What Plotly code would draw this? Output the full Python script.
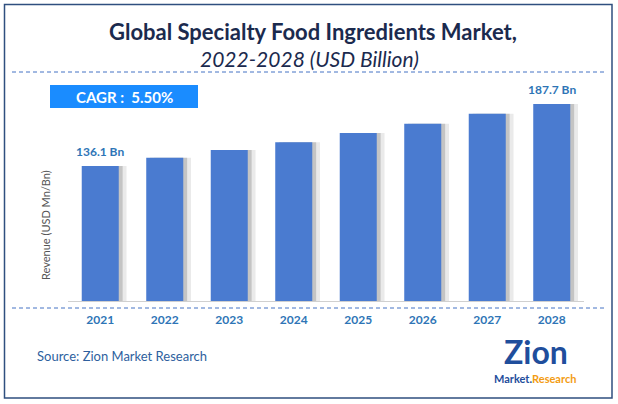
import plotly.graph_objects as go

years = ["2021", "2022", "2023", "2024", "2025", "2026", "2027", "2028"]
revenue = [136.1, 143.0, 149.4, 155.8, 163.6, 171.3, 179.6, 187.7]
bar_labels = ["136.1 Bn", "", "", "", "", "", "", "187.7 Bn"]

FONT = "Lato"
BAR = "#4a7bd0"
LABEL_BLUE = "#2e75b6"

fig = go.Figure()

# soft shadow to the right of each bar (two layers for a gradient feel)
fig.add_trace(go.Bar(
    x=years, y=revenue, width=0.574, offset=-0.287 + 0.12,
    marker=dict(color="rgba(140,140,140,0.18)", line=dict(width=0)),
    hoverinfo="skip", showlegend=False,
))
fig.add_trace(go.Bar(
    x=years, y=revenue, width=0.574, offset=-0.287 + 0.06,
    marker=dict(color="rgba(110,110,110,0.30)", line=dict(width=0)),
    hoverinfo="skip", showlegend=False,
))
fig.add_trace(go.Bar(
    x=years, y=revenue, width=0.574, offset=-0.287,
    marker=dict(color=BAR, line=dict(width=0)),
    showlegend=False,
))

for i, (v, t) in enumerate(zip(revenue, bar_labels)):
    if t:
        fig.add_annotation(x=i, y=v, xref="x", yref="y", text=f"<b>{t}</b>", showarrow=False,
                           yanchor="bottom", yshift=5,
                           font=dict(family=FONT, size=12, color=LABEL_BLUE))

def px(x):
    return (x - 68) / 516

def py(y):
    return (301 - y) / 211

ann = [
    dict(x=px(313), y=py(31), text="<b>Global Specialty Food Ingredients Market,</b>",
         font=dict(family=FONT, size=22, color="#1b2a4e")),
    dict(x=px(309), y=py(58), text="<i>2022-2028 (USD Billion)</i>",
         font=dict(family=FONT, size=21, color="#1b2a4e")),
    dict(x=px(124), y=py(97), text="<b>CAGR :  5.50%</b>",
         font=dict(family=FONT, size=15, color="white")),
    dict(x=px(45), y=py(225), text="Revenue (USD Mn/Bn)", textangle=-90,
         font=dict(family=FONT, size=11, color="#555555")),
    dict(x=px(35), y=py(356), xanchor="left", text="Source: Zion Market Research",
         font=dict(family=FONT, size=13, color="#2e5f9e")),
    dict(x=px(536), y=py(351), text="<b>Zion</b>",
         font=dict(family=FONT, size=32, color="#1f4e9c")),
    dict(x=px(535), y=py(378),
         text="<b><span style='color:#1f4e9c'>Market.</span><span style='color:#f39c12'>Research</span></b>",
         font=dict(family=FONT, size=11)),
]
for a in ann:
    a.setdefault("xanchor", "center")
    fig.add_annotation(xref="paper", yref="paper", showarrow=False, yanchor="middle", **a)

shapes = [
    dict(type="rect", xref="paper", yref="paper", x0=px(4.5), x1=px(612), y0=py(4.5), y1=py(398),
         line=dict(color="#2f4f7f", width=1.5), fillcolor="rgba(0,0,0,0)", layer="below"),
    dict(type="line", xref="paper", yref="paper", x0=px(12), x1=px(607), y0=py(72), y1=py(72),
         line=dict(color="#4472c4", width=1, dash="4px,3px")),
    dict(type="line", xref="paper", yref="paper", x0=px(12), x1=px(607), y0=py(308), y1=py(308),
         line=dict(color="#4472c4", width=1, dash="4px,3px")),
    dict(type="rect", xref="paper", yref="paper", x0=px(50), x1=px(198), y0=py(108), y1=py(85),
         line=dict(width=0), fillcolor="#1a8cff"),
]
fig.update_layout(shapes=shapes)

fig.update_layout(
    width=618, height=404,
    margin=dict(l=68, r=34, t=90, b=103),
    paper_bgcolor="white", plot_bgcolor="white",
    barmode="overlay",
    showlegend=False,
    xaxis=dict(type="category", range=[-0.5, 7.5], showgrid=False,
               showline=True, linecolor="#d0d0d0", linewidth=1,
               ticks="", ticklabelstandoff=8,
               tickfont=dict(family=FONT, size=12, color=LABEL_BLUE, weight="bold")),
    yaxis=dict(range=[23.75, 199.35], showgrid=False, zeroline=False,
               showticklabels=False, showline=False),
)

fig.write_html("out.html", config={"displayModeBar": False},
               post_script="document.body.style.margin='0';document.body.style.padding='0';")
